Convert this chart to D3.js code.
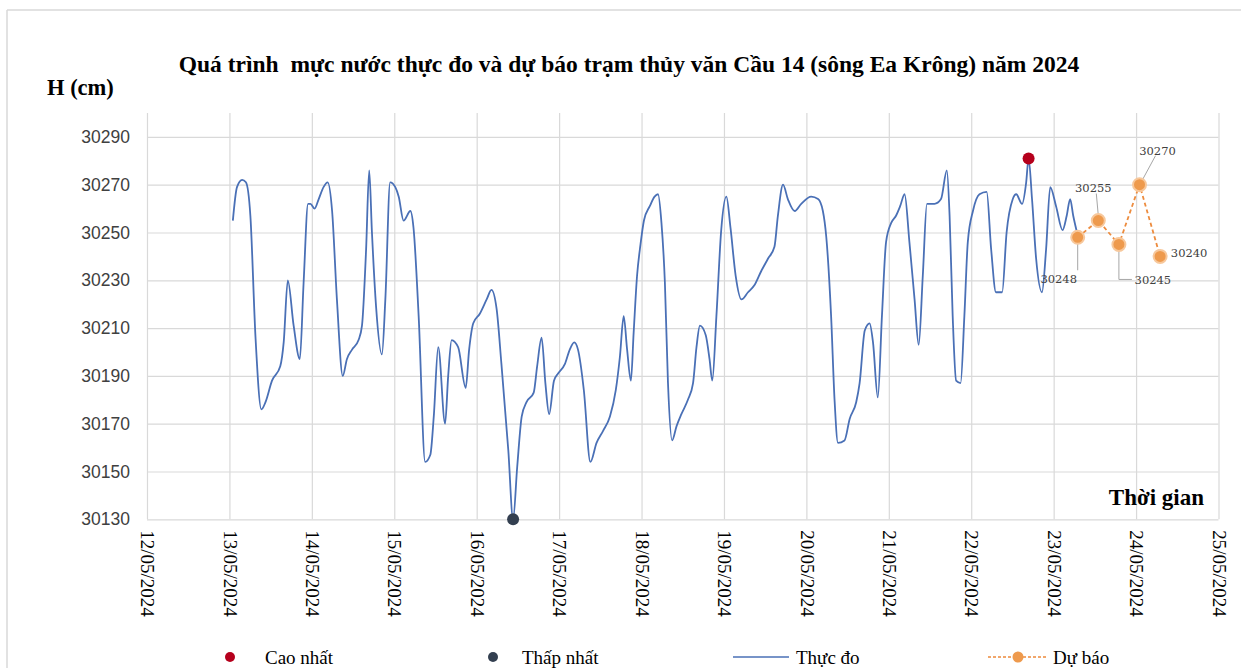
<!DOCTYPE html>
<html>
<head>
<meta charset="utf-8">
<script src="https://cdn.jsdelivr.net/npm/d3@7"></script>
<style>
  body { margin: 0; background: #fff; }
  text { white-space: pre; }
</style>
</head>
<body>
<div id="chart"></div>
<script>
// so gio tinh tu 13/05/2024 00:00
var gioDo = [
    1, 2.2, 3.7, 4.8, 6.1, 7.6, 9.3, 10.5, 12.4, 14.8, 15.8, 17, 18.7, 20.5, 21.6, 22.9, 23.6,
    24.8, 26, 27.4, 28.6, 29.9, 31.3, 33, 34.2, 35.7, 37.6, 38.6, 39.8, 40.7, 41.5, 42.7, 44.4,
    45.4, 46.8, 48.3, 49.3, 50.7, 52.7, 53.6, 55.1, 57, 58.5, 59.5, 60.8, 62.8, 63.7, 64.7,
    66.6, 68.8, 69.8, 71, 72.9, 74.9, 76.3, 77.8, 79.2, 81.2, 82.6, 83.8, 85.1, 86.5, 88.6,
    89.6, 90.9, 92, 93.1, 94.5, 95.7, 97.7, 99.1, 100.4, 101.5, 103.2, 105.1, 106.9, 108.8,
    110.8, 112.5, 113.7, 114.8, 115.8, 116.9, 117.7, 118.7, 119.7, 120.7, 122.4, 123.8, 124.8,
    125.8, 126.8, 127.7, 128.9, 130.2, 131.6, 133.5, 135, 136, 137, 138.7, 139.8, 140.6, 141.8,
    143.2, 144.7, 145.9, 147.4, 149.1, 151, 152.9, 154.9, 156.8, 158.7, 159.7, 161.2, 162.6,
    164.6, 166.5, 169.4, 171.4, 172.8, 173.8, 175.2, 176.2, 177.2, 179.1, 180.6, 182.5, 183.5,
    185, 186.4, 187.4, 188.8, 190, 191.2, 192.7, 194.1, 195.3, 196.6, 198, 199.5, 200.7, 201.9,
    203.1, 205.3, 207.2, 208.9, 209.7, 210.6, 211.6, 212.9, 214, 215, 216.5, 218.4, 220.5,
    221.8, 223.2, 225, 226.3, 228.1, 229.1, 230.8, 232, 232.7, 233.7, 234.9, 236.6, 237.8, 239,
    240.7, 242.6, 243.8, 244.8, 245.7, 246.8
];
var mucNuocDo = [
    30255, 30269, 30272, 30271, 30257, 30206, 30176, 30179, 30188, 30194, 30204, 30230, 30211, 30197, 30229, 30262, 30262,
    30260, 30264, 30269, 30271, 30259, 30222, 30190, 30197, 30201, 30205, 30211, 30243, 30276, 30250, 30219, 30199,
    30222, 30271, 30269, 30265, 30255, 30259, 30252, 30215, 30154, 30157, 30173, 30202, 30170, 30190, 30205,
    30202, 30185, 30201, 30212, 30216, 30222, 30226, 30218, 30195, 30159, 30130, 30152, 30173, 30179, 30183,
    30194, 30206, 30187, 30174, 30188, 30191, 30195, 30201, 30204, 30201, 30184, 30154, 30162, 30167,
    30173, 30184, 30198, 30215, 30201, 30188, 30208, 30232, 30245, 30255, 30261, 30265, 30266,
    30254, 30229, 30187, 30163, 30169, 30174, 30180, 30187, 30202, 30211, 30207, 30197, 30188, 30215,
    30251, 30265, 30252, 30232, 30222, 30225, 30228, 30234, 30239, 30244, 30257, 30270, 30264,
    30259, 30262, 30265, 30264, 30259, 30248, 30215, 30180, 30162, 30163, 30172, 30179, 30187,
    30209, 30212, 30204, 30181, 30215, 30246, 30254, 30257, 30261, 30266, 30246, 30222, 30203, 30232,
    30262, 30262, 30264, 30276, 30257, 30215, 30188, 30187, 30215, 30246, 30259, 30266, 30267,
    30243, 30225, 30225, 30250, 30264, 30266, 30262, 30271, 30281, 30264, 30239, 30225, 30243, 30269,
    30261, 30251, 30257, 30264, 30257, 30250
];

var thoiGianDuBao = ["23/05/2024 07:00", "23/05/2024 13:00", "23/05/2024 19:00", "24/05/2024 01:00", "24/05/2024 07:00"];
var mucNuocDuBao = [30248, 30255, 30245, 30270, 30240];

var ngayTruc = ["12/05/2024", "25/05/2024"];
var mocTrucY = [30130, 30150, 30170, 30190, 30210, 30230, 30250, 30270, 30290];
var gioiHanY = [30130, 30300];

var chuGiai = ["Cao nhất", "Thấp nhất", "Thực đo", "Dự báo"];

var width = 1241, height = 668;
var margin = { top: 113, right: 22, bottom: 149, left: 147 };
var w = 1218.5 - margin.left, h = 519.3 - margin.top;

var parseNgay = d3.timeParse("%d/%m/%Y");
var parseGio = d3.timeParse("%d/%m/%Y %H:%M");
var batDau = new Date(2024, 4, 13, 0, 0);

var thucDo = gioDo.map(function(g, i) {
    return { t: d3.timeMinute.offset(batDau, Math.round(g * 60)), v: mucNuocDo[i] };
});
var duBao = thoiGianDuBao.map(function(s, i) {
    return { t: parseGio(s), v: mucNuocDuBao[i] };
});

var svg = d3.select("#chart").append("svg")
    .attr("width", width)
    .attr("height", height);

// khung
svg.append("line").attr("x1", 7).attr("x2", width).attr("y1", 10).attr("y2", 10)
    .attr("stroke", "#d9d9d9").attr("stroke-width", 1.5);
svg.append("line").attr("x1", 7).attr("x2", 7).attr("y1", 10).attr("y2", height)
    .attr("stroke", "#d9d9d9").attr("stroke-width", 1.5);

var x = d3.scaleTime()
    .domain([parseNgay(ngayTruc[0]), parseNgay(ngayTruc[1])])
    .range([0, w]);
var y = d3.scaleLinear()
    .domain(gioiHanY)
    .range([h, 0]);

var g = svg.append("g")
    .attr("transform", "translate(" + margin.left + "," + margin.top + ")");

// luoi doc + nhan ngay
var xAxis = g.append("g")
    .attr("transform", "translate(0," + h + ")")
    .call(d3.axisBottom(x)
        .tickValues(d3.timeDay.range(x.domain()[0], d3.timeDay.offset(x.domain()[1], 1)))
        .tickFormat(d3.timeFormat("%d/%m/%Y"))
        .tickSize(-h)
        .tickPadding(0));
xAxis.select(".domain").remove();
xAxis.attr("font-family", null);
xAxis.selectAll("line").attr("stroke", "#d9d9d9").attr("stroke-width", 1.2);
xAxis.selectAll("text")
    .attr("transform", "rotate(90)")
    .attr("x", 11)
    .attr("y", 0)
    .attr("dy", "0.33em")
    .attr("text-anchor", "start")
    .style("font-family", "'Liberation Serif', 'Times New Roman', serif")
    .attr("font-size", 19)
    .attr("fill", "#000");

// luoi ngang + nhan muc nuoc
var yAxis = g.append("g")
    .call(d3.axisLeft(y)
        .tickValues(mocTrucY)
        .tickFormat(d3.format("d"))
        .tickSize(-w)
        .tickPadding(17));
yAxis.select(".domain").remove();
yAxis.selectAll("line").attr("stroke", "#d9d9d9").attr("stroke-width", 1.2);
yAxis.selectAll("text")
    .attr("font-family", "Liberation Sans, Arial, sans-serif")
    .attr("font-size", 17.5)
    .attr("fill", "#404040");

// duong thuc do
var line = d3.line()
    .curve(d3.curveMonotoneX)
    .x(function(d) { return x(d.t); })
    .y(function(d) { return y(d.v); });

g.append("path")
    .datum(thucDo)
    .attr("fill", "none")
    .attr("stroke", "#4a70b6")
    .attr("stroke-width", 1.8)
    .attr("d", line);

// duong du bao
var lineDb = d3.line()
    .x(function(d) { return x(d.t); })
    .y(function(d) { return y(d.v); });

g.append("path")
    .datum(duBao)
    .attr("fill", "none")
    .attr("stroke", "#ed8b3d")
    .attr("stroke-width", 1.8)
    .attr("stroke-dasharray", "4,3")
    .attr("d", lineDb);

// nhan du bao
var viTriNhan = [
    { dx: -19, dy: 42, leader: [[0, 5], [0, 33]] },
    { dx: -5, dy: -33, leader: [[0, -5], [-2, -27]] },
    { dx: 34, dy: 36, leader: [[0, 5], [0, 35], [13, 35]] },
    { dx: 18, dy: -34, leader: [[3, -5], [16, -29]] },
    { dx: 29, dy: -3, leader: null }
];

duBao.forEach(function(d, i) {
    var px = x(d.t), py = y(d.v), p = viTriNhan[i];
    if (p.leader) {
        g.append("polyline")
            .attr("points", p.leader.map(function(q) { return (px + q[0]) + "," + (py + q[1]); }).join(" "))
            .attr("fill", "none")
            .attr("stroke", "#a6a6a6")
            .attr("stroke-width", 1);
    }
    g.append("text")
        .attr("x", px + p.dx)
        .attr("y", py + p.dy)
        .attr("dy", "0.35em")
        .attr("text-anchor", "middle")
        .attr("font-family", "DejaVu Serif, serif")
        .attr("font-size", 11.5)
        .attr("fill", "#404040")
        .text(d.v);
});

g.selectAll(".db")
    .data(duBao)
    .enter().append("circle")
    .attr("cx", function(d) { return x(d.t); })
    .attr("cy", function(d) { return y(d.v); })
    .attr("r", 6.5)
    .attr("fill", "#ee9a4d")
    .attr("stroke", "#f7c89c")
    .attr("stroke-width", 2);

// cao nhat, thap nhat
var maxD = thucDo[d3.maxIndex(thucDo, function(d) { return d.v; })];
var minD = thucDo[d3.minIndex(thucDo, function(d) { return d.v; })];

g.append("circle").attr("cx", x(maxD.t)).attr("cy", y(maxD.v)).attr("r", 6).attr("fill", "#b5001c");
g.append("circle").attr("cx", x(minD.t)).attr("cy", y(minD.v)).attr("r", 6).attr("fill", "#333f50");

// tieu de
svg.append("text")
    .attr("x", 629)
    .attr("y", 72)
    .attr("text-anchor", "middle")
    .attr("font-family", "Liberation Serif, Times New Roman, serif")
    .attr("font-weight", "bold")
    .attr("font-size", 23.5)
    .text("Quá trình  mực nước thực đo và dự báo trạm thủy văn Cầu 14 (sông Ea Krông) năm 2024");

svg.append("text")
    .attr("x", 47)
    .attr("y", 95)
    .attr("font-family", "Liberation Serif, Times New Roman, serif")
    .attr("font-weight", "bold")
    .attr("font-size", 22.5)
    .text("H (cm)");

svg.append("text")
    .attr("x", 1204)
    .attr("y", 505)
    .attr("text-anchor", "end")
    .attr("font-family", "Liberation Serif, Times New Roman, serif")
    .attr("font-weight", "bold")
    .attr("font-size", 23)
    .text("Thời gian");

// chu giai
var lg = svg.append("g").attr("font-family", "Liberation Serif, Times New Roman, serif").attr("font-size", 19);
var ly = 657;
lg.append("circle").attr("cx", 230).attr("cy", ly).attr("r", 5).attr("fill", "#b5001c");
lg.append("text").attr("x", 265).attr("y", ly).attr("dy", "0.35em").text(chuGiai[0]);
lg.append("circle").attr("cx", 493).attr("cy", ly).attr("r", 5).attr("fill", "#333f50");
lg.append("text").attr("x", 522).attr("y", ly).attr("dy", "0.35em").text(chuGiai[1]);
lg.append("line").attr("x1", 733).attr("x2", 789).attr("y1", ly).attr("y2", ly)
    .attr("stroke", "#4a70b6").attr("stroke-width", 1.5);
lg.append("text").attr("x", 796).attr("y", ly).attr("dy", "0.35em").text(chuGiai[2]);
lg.append("line").attr("x1", 988).attr("x2", 1048).attr("y1", ly).attr("y2", ly)
    .attr("stroke", "#ed8b3d").attr("stroke-width", 1.5).attr("stroke-dasharray", "3,2");
lg.append("circle").attr("cx", 1018).attr("cy", ly).attr("r", 5.5).attr("fill", "#ee9a4d");
lg.append("text").attr("x", 1053).attr("y", ly).attr("dy", "0.35em").text(chuGiai[3]);
</script>
</body>
</html>
